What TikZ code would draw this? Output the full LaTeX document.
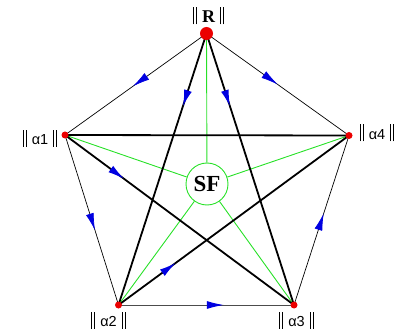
\documentclass[tikz,border=0pt]{standalone}
\usepackage{fontspec}
\setmainfont{Liberation Serif}
\newfontfamily\alphafont{Liberation Sans}
\usetikzlibrary{arrows.meta, decorations.markings}
\definecolor{dotred}{RGB}{235,0,0}
\definecolor{spoke}{RGB}{40,225,40}
\definecolor{flowblue}{RGB}{0,0,225}
\newcommand{\dbar}{\rule[-2pt]{0.9pt}{17pt}\hspace{2pt}\rule[-2pt]{0.9pt}{17pt}}
\tikzset{
  vtx/.style       = {circle, fill=dotred, inner sep=0pt, minimum size=7pt},
  rim/.style       = {draw=black, line width=0.7pt},
  star/.style      = {draw=black, line width=1.8pt},
  spokeline/.style = {draw=spoke, line width=0.9pt},
  flowat/.style    = {postaction={decorate},
                      decoration={markings, mark=at position #1 with
                        {\arrow{Latex[length=17pt, width=8pt, color=flowblue, fill=flowblue]}}}},
  vlbl/.style      = {font=\alphafont\fontsize{14.5}{14.5}\selectfont, inner sep=0pt},
}

\begin{document}
\begin{tikzpicture}[x=1pt, y=-1pt]
    \useasboundingbox (0,0) rectangle (394,334);

    % vertices of the pentagon
    \coordinate (R)  at (206.5,33.5);
    \coordinate (a1) at (65,135);
    \coordinate (a4) at (349,135.5);
    \coordinate (a2) at (118.5,305);
    \coordinate (a3) at (294,305);

    \node[circle, draw=spoke, line width=0.9pt, minimum size=42pt, inner sep=0pt,
          font=\bfseries\fontsize{23}{23}\selectfont] (sf) at (207,184) {SF};

    % spokes to the centre
    \foreach \v in {R,a1,a2,a3,a4}
      \draw[spokeline] (sf) -- (\v);

    % outer pentagon
    \draw[rim, flowat=0.52] (R) -- (a1);
    \draw[rim, flowat=0.50] (R) -- (a4);
    \draw[rim, flowat=0.56] (a1) -- (a2);
    \draw[rim, draw=black!70, line width=1pt, flowat=0.60] (a2) -- (a3);
    \draw[rim, flowat=0.54] (a3) -- (a4);

    % inner star
    \draw[star, flowat=0.27] (R) -- (a2);
    \draw[star, flowat=0.27] (R) -- (a3);
    \draw[star, flowat=0.26] (a1) -- (a3);
    \draw[star, flowat=0.25] (a2) -- (a4);
    \draw[star] (a1) -- (a4);

    % dots
    \node[vtx, minimum size=13pt] (dR) at (R) {};
    \node[vtx] (d1) at (a1) {};
    \node[vtx] (d2) at (a2) {};
    \node[vtx] (d3) at (a3) {};
    \node[vtx] (d4) at (a4) {};

    % labels
    \node[font=\bfseries\fontsize{18}{18}\selectfont, inner sep=0pt] (lR) at (208.5,16)
      {\dbar\hspace{5pt}R\hspace{5pt}\dbar};
    \node[vlbl] (l1) at (40,138.5)  {\dbar\hspace{5pt}α1\hspace{5pt}\dbar};
    \node[vlbl] (l4) at (377,133)   {\dbar\hspace{5pt}α4\hspace{5pt}\dbar};
    \node[vlbl] (l2) at (108.5,320) {\dbar\hspace{5pt}α2\hspace{5pt}\dbar};
    \node[vlbl] (l3) at (296.5,320) {\dbar\hspace{5pt}α3\hspace{5pt}\dbar};
\end{tikzpicture}
\end{document}
